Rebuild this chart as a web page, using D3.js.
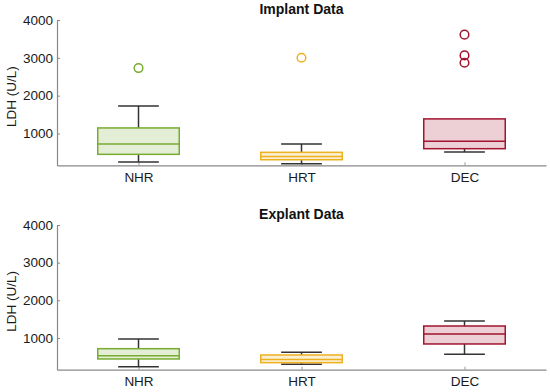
<!DOCTYPE html>
<html>
<head>
<meta charset="utf-8">
<script src="https://cdn.jsdelivr.net/npm/d3@7"></script>
<style>
  body { margin: 0; background: #fff; }
  svg text { font-family: "Liberation Sans", Arial, Helvetica, sans-serif; }
</style>
</head>
<body>
<div id="chart"></div>
<script>
//-----------------------------DATA-----------------------------//
const categories = ["NHR", "HRT", "DEC"];
const colors = ["#77AC30", "#EDB120", "#A2142F"];
const yTicks = [1000, 2000, 3000, 4000];

// box stats: [whiskerLow, q1, median, q3, whiskerHigh]
const implantStats = [
    [244, 448, 721, 1146, 1729],
    [199, 305, 390, 501, 721],
    [509, 597, 793, 1385, 1385]
];
const implantOutliers = [[2729], [3003], [3613, 3064, 2870]];

const explantStats = [
    [239, 443, 531, 716, 973],
    [302, 345, 430, 549, 621],
    [568, 841, 1106, 1318, 1451]
];
const explantOutliers = [[], [], []];

//-------------------------PREPARATION--------------------------//
const width = 550, height = 392;
const margin = { left: 57, right: 4 };
const fontSize = "13.5px";

const svg = d3.select("#chart").append("svg")
    .attr("width", width)
    .attr("height", height);

const xScale = d3.scalePoint()
    .domain(categories)
    .range([margin.left, width - margin.right])
    .padding(0.5);
const step = xScale.step();

function drawPanel(top, bottom, title, stats, outliers) {
    const yScale = d3.scaleLinear().domain([158, 4000]).range([bottom, top]);
    const g = svg.append("g");

    // axes
    const xaxis = d3.axisBottom(xScale).tickSize(-3).tickSizeOuter(0).tickPadding(7);
    const yaxis = d3.axisLeft(yScale).tickValues(yTicks).tickFormat(d3.format("d"))
        .tickSize(-3).tickSizeOuter(0).tickPadding(4);

    g.append("g")
        .attr("transform", "translate(0," + bottom + ")")
        .call(xaxis)
        .call(function(a) {
            a.select(".domain").attr("stroke", "#888").attr("stroke-width", 1.2);
            a.selectAll(".tick line").attr("stroke", "#999");
            a.selectAll("text").attr("fill", "#1a1a1a").style("font-size", fontSize);
        });

    g.append("g")
        .attr("transform", "translate(" + margin.left + ",0)")
        .call(yaxis)
        .call(function(a) {
            a.select(".domain").attr("stroke", "#888").attr("stroke-width", 1.2);
            a.selectAll(".tick line").attr("stroke", "#888");
            a.selectAll("text").attr("fill", "#1a1a1a").style("font-size", fontSize);
        });

    g.append("text")
        .attr("transform", "translate(16," + ((top + bottom) / 2 + 4) + ") rotate(-90)")
        .attr("text-anchor", "middle")
        .style("font-size", fontSize)
        .attr("fill", "#1a1a1a")
        .text("LDH (U/L)");

    g.append("text")
        .attr("x", (margin.left + width - margin.right) / 2)
        .attr("y", top - 6)
        .attr("text-anchor", "middle")
        .style("font-size", "14px")
        .style("font-weight", "bold")
        .attr("fill", "#111")
        .text(title);

    // boxes
    const boxes = g.selectAll(".box")
        .data(stats)
        .enter()
        .append("g")
        .attr("class", "box");

    // whiskers
    boxes.append("line")
        .attr("x1", function(d, i) { return xScale(categories[i]); })
        .attr("x2", function(d, i) { return xScale(categories[i]); })
        .attr("y1", function(d) { return yScale(d[0]); })
        .attr("y2", function(d) { return yScale(d[1]); })
        .attr("stroke", "#333").attr("stroke-width", 1.5);
    boxes.append("line")
        .attr("x1", function(d, i) { return xScale(categories[i]); })
        .attr("x2", function(d, i) { return xScale(categories[i]); })
        .attr("y1", function(d) { return yScale(d[3]); })
        .attr("y2", function(d) { return yScale(d[4]); })
        .attr("stroke", "#333").attr("stroke-width", 1.5);
    [0, 4].forEach(function(k) {
        boxes.filter(function(d) { return k == 0 || d[4] > d[3]; })
            .append("line")
            .attr("x1", function(d) { return xScale(categories[stats.indexOf(d)]) - step * 0.125; })
            .attr("x2", function(d) { return xScale(categories[stats.indexOf(d)]) + step * 0.125; })
            .attr("y1", function(d) { return yScale(d[k]); })
            .attr("y2", function(d) { return yScale(d[k]); })
            .attr("stroke", "#333").attr("stroke-width", 1.5);
    });

    // box body
    boxes.append("rect")
        .attr("x", function(d, i) { return xScale(categories[i]) - step * 0.25; })
        .attr("width", step * 0.5)
        .attr("y", function(d) { return yScale(d[3]); })
        .attr("height", function(d) { return yScale(d[1]) - yScale(d[3]); })
        .attr("fill", function(d, i) { return colors[i]; })
        .attr("fill-opacity", 0.2)
        .attr("stroke", function(d, i) { return colors[i]; })
        .attr("stroke-width", 1.5);

    // median
    boxes.append("line")
        .attr("x1", function(d, i) { return xScale(categories[i]) - step * 0.25; })
        .attr("x2", function(d, i) { return xScale(categories[i]) + step * 0.25; })
        .attr("y1", function(d) { return yScale(d[2]); })
        .attr("y2", function(d) { return yScale(d[2]); })
        .attr("stroke", function(d, i) { return colors[i]; })
        .attr("stroke-width", 1.5);

    // outliers
    outliers.forEach(function(vals, i) {
        g.selectAll(null)
            .data(vals)
            .enter()
            .append("circle")
            .attr("cx", xScale(categories[i]))
            .attr("cy", function(v) { return yScale(v); })
            .attr("r", 4.3)
            .attr("fill", "none")
            .attr("stroke", colors[i])
            .attr("stroke-width", 1.5);
    });
}

drawPanel(20, 165.3, "Implant Data", implantStats, implantOutliers);
drawPanel(225, 369.7, "Explant Data", explantStats, explantOutliers);
</script>
</body>
</html>
